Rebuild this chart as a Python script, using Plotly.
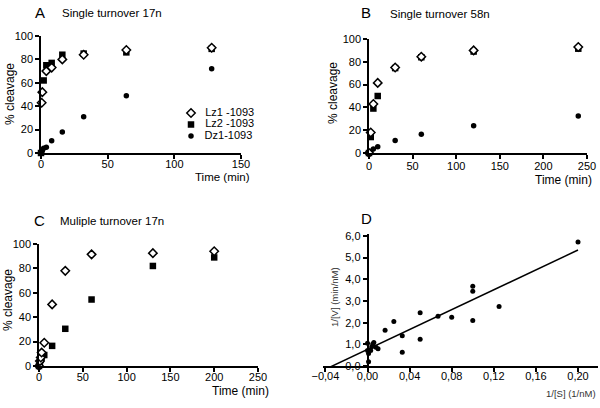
import plotly.graph_objects as go

# ---------------- data ----------------
# Panel A: single turnover 17n
a_lz1_t = [0.5, 1, 4, 8, 16, 32, 64, 128]
a_lz1_v = [43, 52, 70, 73, 80, 84, 88, 90]
a_lz2_t = [0, 2, 4, 8, 16, 32, 64, 128]
a_lz2_v = [0, 62, 75, 77, 84, 85, 86, 89]
a_dz1_t = [0, 1, 2, 4, 8, 16, 32, 64, 128]
a_dz1_v = [0.5, 2, 4, 5, 10.5, 18, 31, 49, 72]

# Panel B: single turnover 58n
b_t = [0, 2, 5, 10, 30, 60, 120, 240]
b_lz1_v = [0, 18, 43, 61.5, 75, 84.5, 90, 93]
b_lz2_v = [0, 14, 39, 50, 74.5, 84, 89, 91.5]
b_dz1_v = [0, 1.5, 3.5, 5.5, 11, 16.5, 24, 32.5]

# Panel C: multiple turnover 17n
c_t = [0, 1, 2, 3, 6, 15, 30, 60, 130, 200]
c_lz1_v = [0, 4, 7, 11, 19, 50.5, 78, 91.5, 92.5, 94]
c_lz2_v = [0, 2, 5, 7, 9, 16.5, 30.5, 54.5, 82, 89]

# Panel D: Lineweaver-Burk
d_x = [0.200, 0.100, 0.100, 0.100, 0.125, 0.080, 0.067, 0.050, 0.050, 0.033,
       0.033, 0.025, 0.0167, 0.010, 0.008, 0.006, 0.004, 0.003, 0.001, 0.001,
       0.000, 0.000, 0.005]
d_y = [5.72, 3.68, 3.45, 2.10, 2.75, 2.25, 2.30, 2.46, 1.23, 1.40,
       0.63, 2.05, 1.65, 0.80, 0.86, 1.08, 0.89, 0.71, 0.58, 0.20,
       1.05, 0.72, 1.01]
fit_x = [-0.0413, 0.200]
fit_y = [-0.18, 5.35]

series_names = ["Lz1 -1093", "Lz2 -1093", "Dz1-1093"]

# ---------------- styles ----------------
FONT = "Liberation Sans, Arial, sans-serif"
W, H = 600, 408

def px(x):
    return x / W

def py(y):
    return 1 - y / H

lz1_marker = dict(symbol="diamond", size=6.5, color="white", line=dict(color="black", width=1.5))
lz2_marker = dict(symbol="square", size=6.5, color="black", line=dict(color="black", width=0))
dz1_marker = dict(symbol="circle", size=5.5, color="black", line=dict(color="black", width=0))
markers = [lz1_marker, lz2_marker, dz1_marker]

fig = go.Figure()

def add_series(t, v, name, marker, xa, ya):
    fig.add_trace(go.Scatter(x=t, y=v, mode="markers", name=name, marker=marker,
                             xaxis=xa, yaxis=ya, showlegend=False, cliponaxis=False))

# Panel A (Dz1, Lz2, Lz1 order so diamonds on top)
add_series(a_dz1_t, a_dz1_v, series_names[2], dz1_marker, "x", "y")
add_series(a_lz2_t, a_lz2_v, series_names[1], lz2_marker, "x", "y")
add_series(a_lz1_t, a_lz1_v, series_names[0], lz1_marker, "x", "y")
# Panel B
add_series(b_t, b_dz1_v, series_names[2], dz1_marker, "x2", "y2")
add_series(b_t, b_lz2_v, series_names[1], lz2_marker, "x2", "y2")
add_series(b_t, b_lz1_v, series_names[0], lz1_marker, "x2", "y2")
# Panel C
add_series(c_t, c_lz2_v, series_names[1], lz2_marker, "x3", "y3")
add_series(c_t, c_lz1_v, series_names[0], lz1_marker, "x3", "y3")
# Panel D
fig.add_trace(go.Scatter(x=fit_x, y=fit_y, mode="lines", line=dict(color="black", width=1.5),
                         xaxis="x4", yaxis="y4", showlegend=False, cliponaxis=False))
fig.add_trace(go.Scatter(x=d_x, y=d_y, mode="markers",
                         marker=dict(symbol="circle", size=5, color="black"),
                         xaxis="x4", yaxis="y4", showlegend=False, cliponaxis=False))

# Compact legend for panel A (one key per series, on a hidden category axis)
for name, mk in zip(series_names, markers):
    fig.add_trace(go.Scatter(x=[0], y=[name], mode="markers+text", text=["   " + name],
                             textposition="middle right",
                             textfont=dict(family=FONT, size=11, color="black"),
                             marker=mk, xaxis="x5", yaxis="y5", showlegend=False,
                             cliponaxis=False, hoverinfo="skip"))

axis_common = dict(showline=True, linecolor="black", linewidth=1.5, ticks="outside",
                   ticklen=4, tickwidth=1.5, tickcolor="black", showgrid=False,
                   zeroline=False, tickfont=dict(family=FONT, size=11, color="black"),
                   fixedrange=True, automargin=False)

fig.update_layout(
    template="none",
    width=W, height=H, margin=dict(l=0, r=0, t=0, b=0, pad=0, autoexpand=False),
    paper_bgcolor="white", plot_bgcolor="rgba(0,0,0,0)",
    separators=", ",
    showlegend=False,
    font=dict(family=FONT, size=11, color="black"),
    xaxis=dict(domain=[px(41), px(241)], range=[0, 150], tickvals=[0, 50, 100, 150],
               anchor="y", ticklabelstandoff=-4, **axis_common),
    yaxis=dict(domain=[py(153), py(36)], range=[0, 100], tickvals=[0, 20, 40, 60, 80, 100],
               anchor="x", **axis_common),
    xaxis2=dict(domain=[px(369), px(587)], range=[0, 250], tickvals=[0, 50, 100, 150, 200, 250],
                anchor="y2", ticklabelstandoff=-2, **axis_common),
    yaxis2=dict(domain=[py(153), py(39)], range=[0, 100], tickvals=[0, 20, 40, 60, 80, 100],
                anchor="x2", **axis_common),
    xaxis3=dict(domain=[px(39), px(258)], range=[0, 250], tickvals=[0, 50, 100, 150, 200, 250],
                anchor="y3", ticklabelstandoff=-4, **axis_common),
    yaxis3=dict(domain=[py(366), py(244)], range=[0, 100], tickvals=[0, 20, 40, 60, 80, 100],
                anchor="x3", **axis_common),
    xaxis4=dict(domain=[px(323), px(598)], range=[-0.0423, 0.219],
                tickvals=[-0.04, 0, 0.04, 0.08, 0.12, 0.16, 0.20], tickformat=".2f",
                anchor="y4", ticklabelstandoff=-5, **axis_common),
    yaxis4=dict(domain=[py(366), py(234)], range=[0, 6.09],
                tickvals=[0, 1, 2, 3, 4, 5, 6], tickformat=".1f",
                anchor="free", position=px(367.5), **axis_common),
    xaxis5=dict(domain=[px(191), px(260)], range=[0, 1], visible=False, fixedrange=True,
                anchor="y5", automargin=False),
    yaxis5=dict(domain=[py(141.75), py(107.25)], range=[2.5, -0.5], type="category",
                categoryorder="array", categoryarray=series_names, visible=False,
                fixedrange=True, anchor="x5", automargin=False),
)

def ann(x, y, text, size=11, xanchor="center", yanchor="middle", angle=0, color="black"):
    fig.add_annotation(x=px(x), y=py(y), xref="paper", yref="paper", text=text,
                       showarrow=False, xanchor=xanchor, yanchor=yanchor, textangle=angle,
                       font=dict(family=FONT, size=size, color=color))

# Panel letters & titles
ann(40, 12, "A", size=15)
ann(60, 13, "Single turnover 17n", size=11.5, xanchor="left")
ann(366, 12, "B", size=15)
ann(388, 14, "Single turnover 58n", size=11.5, xanchor="left")
ann(39, 220, "C", size=15)
ann(58, 221, "Muliple turnover 17n", size=11.5, xanchor="left")
ann(366, 218, "D", size=15)

# Axis titles
ann(10, 94, "% cleavage", size=12, angle=-90)
ann(252, 177, "Time (min)", size=11.5, xanchor="right")
ann(333, 93, "% cleavage", size=12, angle=-90)
ann(594, 180, "Time (min)", size=12, xanchor="right")
ann(8, 300, "% cleavage", size=12, angle=-90)
ann(271, 391, "Time (min)", size=12, xanchor="right")
ann(598, 393, "1/[S] (1/nM)", size=9.5, xanchor="right", color="#333333")
ann(334, 297, "1/[V] (min/nM)", size=9.5, angle=-90, color="#333333")

fig.write_html("out.html", config={"displayModeBar": False},
               post_script="document.body.style.margin='0px';")
